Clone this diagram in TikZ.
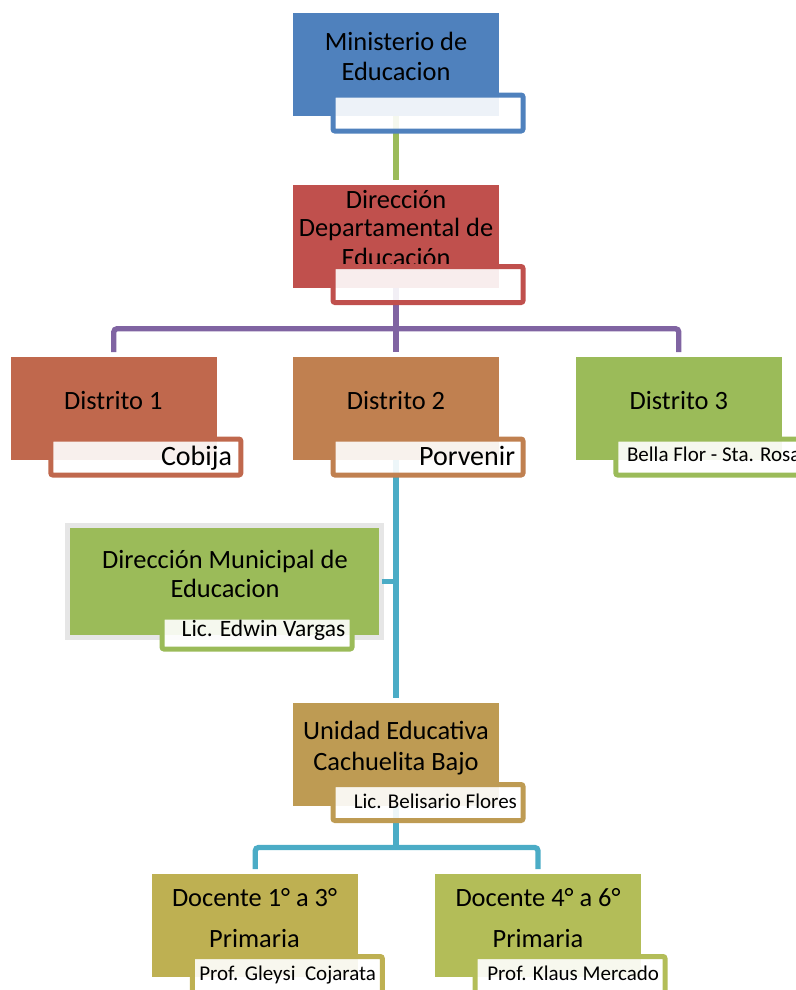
\documentclass[tikz,border=0pt]{standalone}
\usepackage{fontspec}
\setmainfont{Carlito}
\definecolor{cMin}{HTML}{4F81BD}
\definecolor{cDD}{HTML}{C0504D}
\definecolor{cD1}{HTML}{C0684D}
\definecolor{cD2}{HTML}{C08050}
\definecolor{cD3}{HTML}{9BBB59}
\definecolor{cDM}{HTML}{9BBB59}
\definecolor{cUE}{HTML}{BE9B53}
\definecolor{cDoA}{HTML}{BEB052}
\definecolor{cDoB}{HTML}{B3BD58}
\definecolor{lnGreen}{HTML}{9BBB59}
\definecolor{lnPurple}{HTML}{8064A2}
\definecolor{lnBlue}{HTML}{4BACC6}
\definecolor{frameGray}{HTML}{E6E6E6}
\tikzset{
  mainbox/.style={rectangle, inner sep=0pt, outer sep=0pt, minimum width=154.5pt, minimum height=77.25pt, draw=none, fill=#1},
  subbox/.style={rectangle, inner sep=0pt, outer sep=0pt, minimum width=142.5pt, minimum height=27pt, line width=3.75pt, rounded corners=1.5pt, fill=white, fill opacity=0.9, draw=#1},
  bigtxt/.style={font=\fontsize{19.8}{22}\selectfont, inner sep=0pt, outer sep=0pt},
  labtxt/.style={font=\fontsize{21}{24}\selectfont, inner sep=0pt, outer sep=0pt},
  smalltxt/.style={font=\fontsize{15.75}{18}\selectfont, inner sep=0pt, outer sep=0pt},
  conn/.style={line width=4pt, rounded corners=2.5pt}
}
\begin{document}
\begin{tikzpicture}[x=0.75pt,y=-0.75pt]
\useasboundingbox (0,0) rectangle (796,990);
\clip (0,0) rectangle (796,990);

% main boxes
\node[mainbox=cMin] (min) at (396,64.5) {};
\node[mainbox=cDD] (dd) at (396,236.5) {};
\node[mainbox=cD1] (d1) at (113.8,408.7) {};
\node[mainbox=cD2] (d2) at (396,408.7) {};
\node[mainbox=cD3] (d3) at (678.8,408.7) {};
\node[rectangle, inner sep=0pt, outer sep=0pt, minimum width=235.5pt, minimum height=84pt, fill=cDM, draw=frameGray, line width=3.75pt] (dm) at (224.5,581.5) {};
\node[mainbox=cUE] (ue) at (396,754) {};
\node[mainbox=cDoA] (doa) at (255.3,925.5) {};
\node[mainbox=cDoB] (dob) at (538,925.5) {};

% connector end points
\coordinate (ddt) at ([yshift=3.75pt]dd.north);
\coordinate (d1t) at ([yshift=3.75pt]d1.north);
\coordinate (d2t) at ([yshift=3.75pt]d2.north);
\coordinate (d3t) at ([yshift=3.75pt]d3.north);
\coordinate (uet) at ([yshift=3.75pt]ue.north);
\coordinate (doat) at ([yshift=3.75pt]doa.north);
\coordinate (dobt) at ([yshift=3.75pt]dob.north);
\path (dd.south) ++(0,40.7) coordinate (pbar);
\path (ue.south) ++(0,42) coordinate (bbar);

% connectors
\draw[conn, lnGreen] (min.south) -- (ddt);
\draw[conn, lnPurple] (dd.south) -- (d2t);
\draw[conn, lnPurple] (d1t) |- (pbar) -| (d3t);
\draw[conn, lnBlue] (d2.south) -- (uet);
\draw[conn, lnBlue] (dm.east) -- (dm.east -| d2.south);
\draw[conn, lnBlue] (ue.south) -- (bbar);
\draw[conn, lnBlue] (doat) |- (bbar) -| (dobt);

% main texts
\node[bigtxt, anchor=base] (t1a) at (396,50) {Ministerio de};
\node[bigtxt, anchor=base] (t1b) at (396,80) {Educacion};
\begin{scope}
\clip (293,185) rectangle (499,264.5);
\node[bigtxt, anchor=base] (t2a) at (396,208.3) {Dirección};
\node[bigtxt, anchor=base] (t2b) at (396,236.7) {Departamental de};
\node[bigtxt, anchor=base] (t2c) at (396,266) {Educación};
\end{scope}
\node[bigtxt, anchor=base] (t3) at (113.3,409) {Distrito 1};
\node[bigtxt, anchor=base] (t4) at (396,409) {Distrito 2};
\node[bigtxt, anchor=base] (t5) at (678.8,409) {Distrito 3};
\node[bigtxt, anchor=base] (t6a) at (225,568.3) {Dirección Municipal de};
\node[bigtxt, anchor=base] (t6b) at (225,597.3) {Educacion};
\node[bigtxt, anchor=base] (t7a) at (396,739.3) {Unidad Educativa};
\node[bigtxt, anchor=base] (t7b) at (396,770) {Cachuelita Bajo};
\node[bigtxt, anchor=base] (t8a) at (254.5,906.7) {Docente 1° a 3°};
\node[bigtxt, anchor=base] (t8b) at (254.5,947.3) {Primaria};
\node[bigtxt, anchor=base] (t9a) at (538,906.7) {Docente 4° a 6°};
\node[bigtxt, anchor=base] (t9b) at (538,947.3) {Primaria};

% sub boxes
\node[subbox=cMin] (smin) at (428,113) {};
\node[subbox=cDD] (sdd) at (428,284.5) {};
\node[subbox=cD1] (sd1) at (145.8,457) {};
\node[subbox=cD2] (sd2) at (428,457) {};
\node[subbox=cD3] (sd3) at (710.8,457) {};
\node[subbox=cDM, minimum height=24pt] (sdm) at (257,633) {};
\node[subbox=cUE] (sue) at (428,802.5) {};
\node[subbox=cDoA] (sdoa) at (287.3,974.5) {};
\node[subbox=cDoB] (sdob) at (570,974.5) {};

% sub labels
\node[labtxt, anchor=base east] (l1) at (232,465) {Cobija};
\node[labtxt, anchor=base east] (l2) at (515,465) {Porvenir};
\node[smalltxt, anchor=base west] (l3) at (627,461.7) {Bella Flor - Sta. Rosa};
\node[font=\fontsize{17.6}{20}\selectfont, inner sep=0pt, anchor=base east] (l4) at (345.5,636.7) {Lic. Edwin Vargas};
\node[smalltxt, anchor=base east] (l5) at (517,808.3) {Lic. Belisario Flores};
\node[smalltxt, anchor=base east] (l6) at (376,980) {Prof. Gleysi~ Cojarata};
\node[smalltxt, anchor=base east] (l7) at (659,980) {Prof. Klaus Mercado};
\end{tikzpicture}
\end{document}
